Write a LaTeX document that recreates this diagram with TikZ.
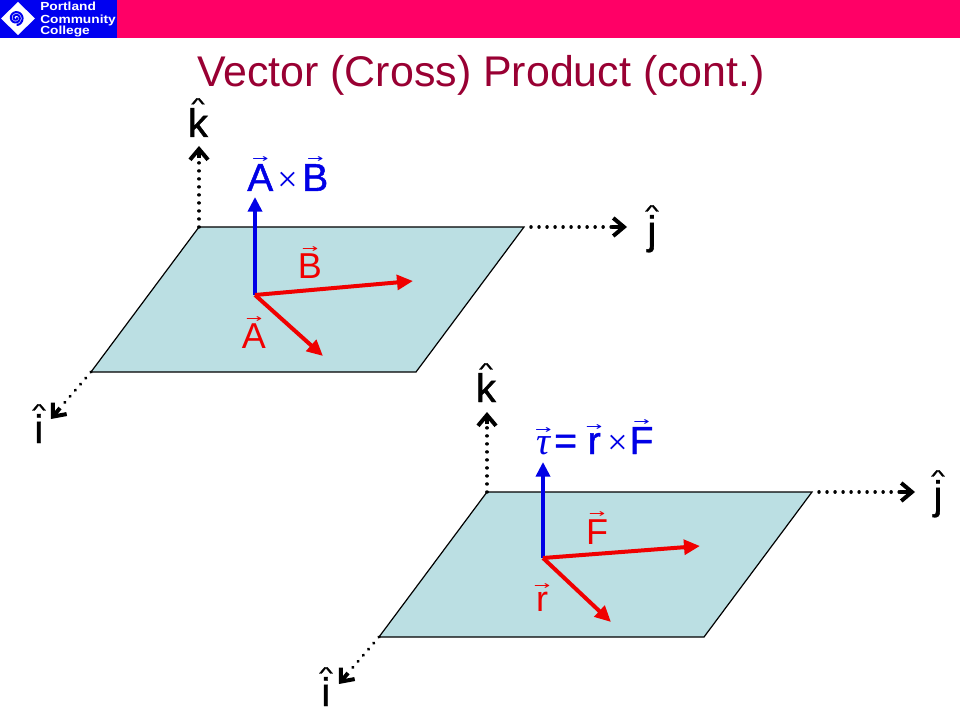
\documentclass[tikz,border=0pt]{standalone}
\usepackage{fontspec}
\setmainfont{Liberation Sans}
\newfontfamily\tauface{Liberation Serif}
\newfontfamily\arrowface{DejaVu Sans}
\newfontfamily\heavyface[FakeBold=1.2]{Liberation Sans}
\usetikzlibrary{arrows.meta}
\definecolor{barpink}{HTML}{FF0066}
\definecolor{logoblue}{HTML}{0000F0}
\definecolor{titlered}{HTML}{990033}
\definecolor{planefill}{HTML}{BBDFE3}
\definecolor{vecred}{HTML}{F00000}
\definecolor{vecblue}{HTML}{0000E6}
\newcommand\ptfont[1]{\fontsize{#1}{#1}\selectfont}
\newcommand\accented[3]{\leavevmode\setbox0\hbox{#3}\hbox to\wd0{\hss\raisebox{\dimexpr\ht0+#1\relax}[0pt][0pt]{#2}\hss}\kern-\wd0\box0}
\newcommand\vecmark[1]{\accented{1.6pt}{\arrowface\ptfont{10.5}\scalebox{1.4}[0.8]{→}}{#1}}
\newcommand\hatmark[1]{\accented{-1.5pt}{\ptfont{16}\scalebox{1.35}[0.8]{\textasciicircum}}{#1}}
\newcommand\crossmark{{\ptfont{27}\tauface\raisebox{-0.5pt}{×}}}
\tikzset{
  px/.style={x=0.75pt,y=-0.75pt},
  plane/.style={draw=black,line width=0.9pt,fill=planefill},
  axis/.style={line width=2.6pt,line cap=round,dash pattern=on 0.01pt off 6pt,black},
  axisend/.style={line width=3pt,black,-{Straight Barb[length=8pt,width=13.5pt,line width=3pt]}},
  bluevec/.style={vecblue,line width=3pt,-{Triangle[length=11pt,width=10.5pt]}},
  redvec/.style={vecred,line width=3pt,-{Triangle[length=12pt,width=11pt]}},
  axlabel/.style={anchor=base,inner sep=0pt,font=\ptfont{30}\heavyface,black},
  redlabel/.style={anchor=base,inner sep=0pt,font=\ptfont{27},vecred},
  bluelabel/.style={anchor=base west,inner sep=0pt,font=\ptfont{29.25}\heavyface,vecblue},
  logotext/.style={anchor=base west,inner sep=0pt,font=\ptfont{8.8}\bfseries,white},
}
\begin{document}
\begin{tikzpicture}[px]
\useasboundingbox (0,0) rectangle (960,720);
\fill[white] (0,0) rectangle (960,720);
% header
\fill[barpink] (0,0) rectangle (960,38);
\fill[logoblue] (0,0) rectangle (117,38);
\fill[white] (18,2) -- (35,18.5) -- (18,35) -- (1,18.5) -- cycle;
\draw[logoblue,line width=1.5pt,line cap=round] plot[domain=0:800,samples=60,smooth] ({16+(1+\x/130)*cos(\x)},{18+(1+\x/130)*sin(\x)});
\node[logotext] (l1) at (40,10.7) {\scalebox{1.17}[1]{Portland}};
\node[logotext] (l2) at (40,23.3) {\scalebox{1.17}[1]{Community}};
\node[logotext] (l3) at (40,34.3) {\scalebox{1.17}[1]{College}};
\node[anchor=base,inner sep=0pt,font=\ptfont{32.2},titlered] (title) at (481,87) {Vector (Cross) Product (cont.)};
% upper plane
\coordinate (pa) at (199,227); \coordinate (pb) at (524,227);
\coordinate (pc) at (416,372); \coordinate (pd) at (91,372);
\draw[plane] (pa) -- (pb) -- (pc) -- (pd) -- cycle;
\coordinate (ktop) at (199,146); \coordinate (kmid) at (199,158);
\draw[axis] (pa) -- (kmid);
\draw[axisend] (kmid) -- (ktop);
\coordinate (jstart) at (531,227); \coordinate (jmid) at (612,227); \coordinate (jtip) at (627,227);
\draw[axis] (jstart) -- (jmid);
\draw[axisend] (jmid) -- (jtip);
\coordinate (imid) at (60,408); \coordinate (itip) at (51,419);
\draw[axis] (pd) -- (imid);
\draw[axisend] (imid) -- (itip);
\coordinate (o1) at (255,295); \coordinate (axb) at (255,197);
\coordinate (btip) at (413,281); \coordinate (atip) at (323,356);
\draw[bluevec] (o1) -- (axb);
\draw[redvec] (o1) -- (btip);
\draw[redvec] (o1) -- (atip);
\node[axlabel] (k1) at (198,137) {\hatmark{k}};
\node[axlabel] (j1) at (652,244) {\hatmark{j}};
\node[axlabel] (i1) at (39,443) {\hatmark{i}};
\node[bluelabel] (lab1) at (247,191) {\vecmark{A}\kern3pt\crossmark\kern3.5pt\vecmark{B}};
\node[redlabel] (b1) at (310,279) {\vecmark{B}};
\node[redlabel] (a1) at (254,349) {\vecmark{A}};
% lower plane
\coordinate (qa) at (487,492); \coordinate (qb) at (812,492);
\coordinate (qc) at (704,637); \coordinate (qd) at (379,637);
\draw[plane] (qa) -- (qb) -- (qc) -- (qd) -- cycle;
\coordinate (k2top) at (487,412); \coordinate (k2mid) at (487,424);
\draw[axis] (qa) -- (k2mid);
\draw[axisend] (k2mid) -- (k2top);
\coordinate (j2start) at (819,492); \coordinate (j2mid) at (900,492); \coordinate (j2tip) at (915,492);
\draw[axis] (j2start) -- (j2mid);
\draw[axisend] (j2mid) -- (j2tip);
\coordinate (i2mid) at (348,673); \coordinate (i2tip) at (339,684);
\draw[axis] (qd) -- (i2mid);
\draw[axisend] (i2mid) -- (i2tip);
\coordinate (o2) at (543,558); \coordinate (taux) at (543,462);
\coordinate (ftip) at (700,546); \coordinate (rtip) at (611,622);
\draw[bluevec] (o2) -- (taux);
\draw[redvec] (o2) -- (ftip);
\draw[redvec] (o2) -- (rtip);
\node[axlabel] (k2) at (486,402) {\hatmark{k}};
\node[axlabel] (j2) at (938,509) {\hatmark{j}};
\node[axlabel] (i2) at (326,706) {\hatmark{i}};
\node[bluelabel] (lab2) at (536,454) {\vecmark{\tauface\itshape τ}\kern3pt=\kern8pt\vecmark{r}\kern5pt\crossmark\kern1.5pt\vecmark{F}};
\node[redlabel] (f2) at (597,544) {\vecmark{F}};
\node[redlabel] (r2) at (542,611) {\vecmark{r}};
\end{tikzpicture}
\end{document}
